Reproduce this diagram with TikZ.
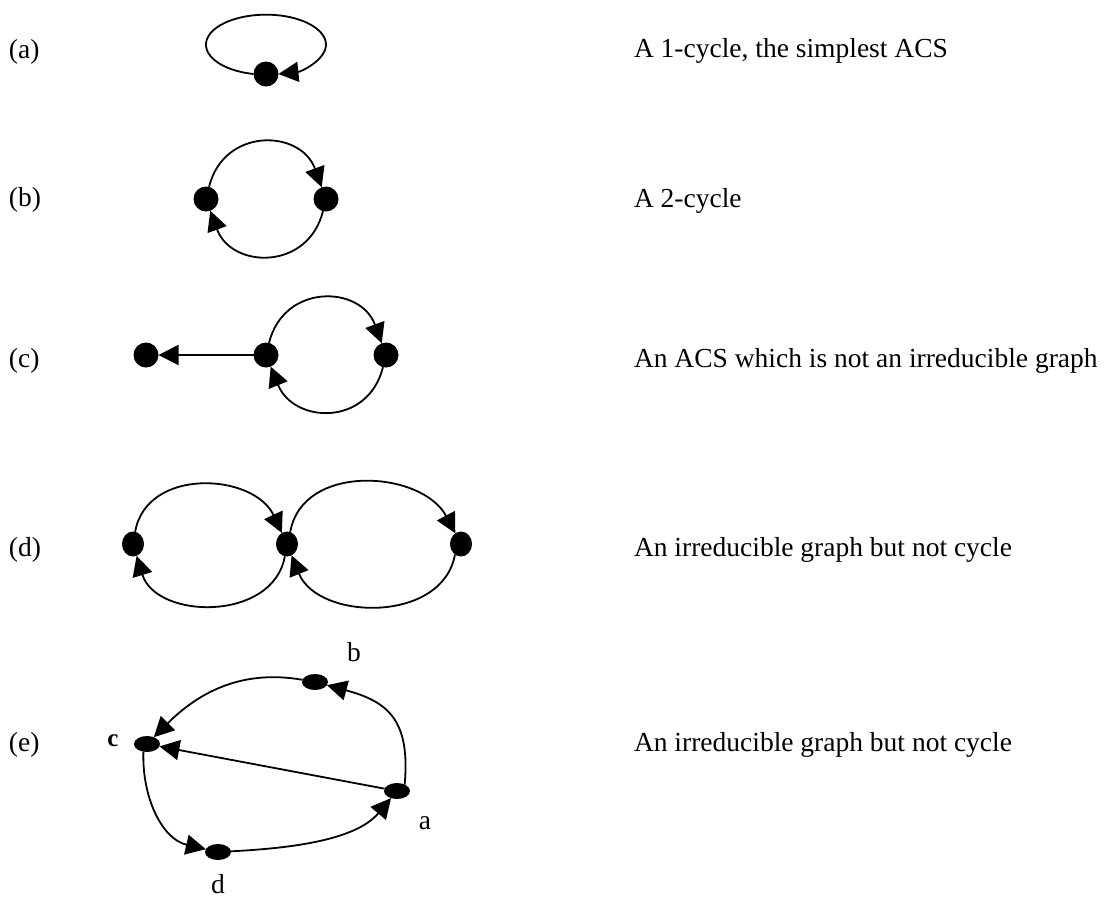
\documentclass[tikz,border=0pt]{standalone}
\usepackage{fontspec}
\setmainfont{Liberation Serif}
\usetikzlibrary{arrows.meta,shapes.geometric}
\begin{document}
\begin{tikzpicture}[x=1pt,y=1pt,
  every node/.style={inner sep=0pt, outer sep=0pt},
  dot/.style={circle, fill=black, minimum size=25pt},
  vdot/.style={ellipse, fill=black, minimum width=22pt, minimum height=25pt},
  hdot/.style={ellipse, fill=black, minimum width=26pt, minimum height=16pt},
  edge/.style={line width=1.8pt, -{Triangle[length=20pt,width=20pt]}},
  txt/.style={anchor=base west, font=\fontsize{27.5}{33}\selectfont},
  lbl/.style={anchor=base, font=\fontsize{27.5}{33}\selectfont},
]
\useasboundingbox (0,0) rectangle (1107,-898);

% (a) a single vertex with a self-loop
\node[txt] (la) at (9,-58) {(a)};
\node[dot] (a0) at (266,-74) {};
\draw[edge] (a0.west) arc[start angle=258, end angle=-78, x radius=60, y radius=30];
\node[txt] (ta) at (634,-57) {A 1-cycle, the simplest ACS};

% (b) a 2-cycle
\node[txt] (lb) at (9,-206) {(b)};
\node[dot] (b1) at (206,-199) {};
\node[dot] (b2) at (326,-199) {};
\draw[edge] (b1) to[out=76,in=110,looseness=1.4] (b2);
\draw[edge] (b2) to[out=-104,in=-70,looseness=1.4] (b1);
\node[txt] (tb) at (634,-207) {A 2-cycle};

% (c) a 2-cycle with a pendant vertex
\node[txt] (lc) at (9,-367) {(c)};
\node[dot] (c1) at (146,-355) {};
\node[dot] (c2) at (266,-355) {};
\node[dot] (c3) at (386,-355) {};
\draw[edge] (c2) -- (c1);
\draw[edge] (c2) to[out=76,in=110,looseness=1.4] (c3);
\draw[edge] (c3) to[out=-104,in=-68,looseness=1.4] (c2);
\node[txt] (tc) at (634,-367) {An ACS which is not an irreducible graph};

% (d) two 2-cycles sharing a vertex
\node[txt] (ld) at (9,-556) {(d)};
\node[vdot] (d1) at (133,-544) {};
\node[vdot] (d2) at (287,-544) {};
\node[vdot] (d3) at (461,-544) {};
\draw[edge] (d1) to[out=80,in=115,looseness=1.15] (d2);
\draw[edge] (d2) to[out=-100,in=-73,looseness=1.15] (d1);
\draw[edge] (d2.75) to[out=80,in=118,looseness=1.1] (d3);
\draw[edge] (d3.-120) to[out=-100,in=-68,looseness=1.1] (d2);
\node[txt] (td) at (634,-556) {An irreducible graph but not cycle};

% (e) four vertices a, b, c, d
\node[txt] (le) at (9,-751) {(e)};
\node[hdot] (ea) at (397,-791) {};
\node[hdot] (eb) at (315,-682) {};
\node[hdot] (ec) at (147,-744) {};
\node[hdot] (ed) at (218,-852) {};
\node[lbl] (na) at (425,-829) {a};
\node[lbl] (nb) at (354,-661) {b};
\node[anchor=base, font=\fontsize{25}{30}\selectfont\bfseries] (nc) at (113,-746) {c};
\node[lbl] (nd) at (218,-893) {d};
\draw[edge] (ea.40) to[out=85,in=-15,looseness=1.3] (eb);
\draw[edge] (eb) to[out=170,in=45,looseness=1] (ec);
\draw[edge] (ea) -- (ec);
\draw[edge] (ec.-115) to[out=-92,in=167,looseness=1] (ed);
\draw[edge] (ed) to[out=3,in=-130,looseness=0.85] (ea);
\node[txt] (te) at (634,-751) {An irreducible graph but not cycle};
\end{tikzpicture}
\end{document}
